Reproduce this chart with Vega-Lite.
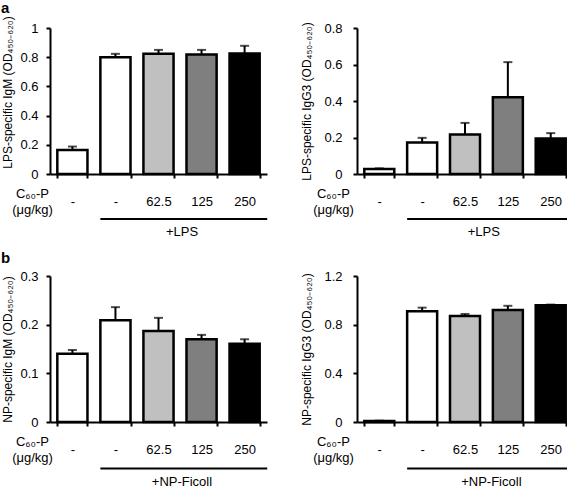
{
  "$schema": "https://vega.github.io/schema/vega-lite/v6.json",
  "padding": {"left": 0, "top": 0, "right": 0, "bottom": 0},
  "spacing": 11,
  "config": {
    "font": "Liberation Sans",
    "view": {"stroke": null},
    "axis": {"domainColor": "black", "tickColor": "black", "labelColor": "black", "titleColor": "black", "labelFontSize": 13, "titleFontSize": 12, "titleFontWeight": "normal", "grid": false, "domainWidth": 2, "tickWidth": 2, "tickSize": 4, "labelFont": "Liberation Sans", "titleFont": "Liberation Sans", "labelOverlap": false, "labelBound": false},
    "title": {"font": "Liberation Sans", "color": "black"}
  },
  "vconcat": [
    {
      "title": {"text": "a", "anchor": "start", "fontSize": 15, "fontWeight": "bold", "offset": 0},
      "spacing": 30,
      "hconcat": [
        {
          "width": 217, "height": 146,
          "data": {"values": [
            {"grp": "ctrl", "mean": 0.164, "hi": 0.188},
            {"grp": "LPS", "mean": 0.800, "hi": 0.823},
            {"grp": "62.5", "mean": 0.824, "hi": 0.850},
            {"grp": "125", "mean": 0.818, "hi": 0.850},
            {"grp": "250", "mean": 0.826, "hi": 0.878}
          ]},
          "layer": [
            {"mark": {"type": "bar", "stroke": "black", "strokeWidth": 2.5},
             "encoding": {
               "x": {"field": "grp", "type": "nominal", "sort": null,
                     "scale": {"domain": ["ctrl", "LPS", "62.5", "125", "250"], "paddingInner": 0.3, "paddingOuter": 0.17},
                     "axis": {"labelExpr": "datum.value == 'ctrl' || datum.value == 'LPS' ? '-' : datum.value", "labelAngle": 0, "tickBand": "extent", "labelPadding": 17, "labelOverlap": false,
                              "title": ["C₆₀-P", "(μg/kg)"], "titleFontSize": 13, "titleX": -18, "titleY": 13, "titleAngle": 0, "titleAlign": "center", "titleBaseline": "top", "titleLineHeight": 16}},
               "y": {"field": "mean", "type": "quantitative", "scale": {"domain": [0, 1]},
                     "axis": {"values": [0, 0.2, 0.4, 0.6, 0.8, 1], "tickCount": 10, "format": "~g", "labelOverlap": false, "labelPadding": 8, "title": "LPS-specific IgM (OD₄₅₀₋₆₂₀)", "titleX": -43, "titleY": 64, "titleBaseline": "middle"}},
               "fill": {"field": "grp", "type": "nominal", "scale": {"domain": ["ctrl", "LPS", "62.5", "125", "250"], "range": ["#ffffff", "#ffffff", "#c0c0c0", "#7f7f7f", "#000000"]}, "legend": null}
             }},
            {"mark": {"type": "rule", "color": "black", "strokeWidth": 2},
             "encoding": {"x": {"field": "grp", "type": "nominal"}, "y": {"field": "mean", "type": "quantitative"}, "y2": {"field": "hi"}}},
            {"mark": {"type": "tick", "color": "black", "thickness": 2, "size": 9},
             "encoding": {"x": {"field": "grp", "type": "nominal"}, "y": {"field": "hi", "type": "quantitative"}}},
            {"data": {"values": [{"start": "LPS", "end": "250", "mid": "125", "label": "+LPS"}]},
             "layer": [
               {"mark": {"type": "rule", "color": "black", "strokeWidth": 2},
                "encoding": {"x": {"field": "start", "type": "nominal", "bandPosition": 0}, "x2": {"field": "end", "bandPosition": 1.25}, "y": {"datum": -0.308}}},
               {"mark": {"type": "text", "fontSize": 13, "baseline": "middle", "align": "center", "color": "black"},
                "encoding": {"x": {"field": "mid", "type": "nominal", "bandPosition": -0.15}, "y": {"datum": -0.397}, "text": {"field": "label"}}}
             ]}
          ]
        },
        {
          "width": 216, "height": 146,
          "data": {"values": [
            {"grp": "ctrl", "mean": 0.027, "hi": 0.031},
            {"grp": "LPS", "mean": 0.173, "hi": 0.198},
            {"grp": "62.5", "mean": 0.216, "hi": 0.280},
            {"grp": "125", "mean": 0.420, "hi": 0.613},
            {"grp": "250", "mean": 0.195, "hi": 0.224}
          ]},
          "layer": [
            {"mark": {"type": "bar", "stroke": "black", "strokeWidth": 2.5},
             "encoding": {
               "x": {"field": "grp", "type": "nominal", "sort": null,
                     "scale": {"domain": ["ctrl", "LPS", "62.5", "125", "250"], "paddingInner": 0.3, "paddingOuter": 0.17},
                     "axis": {"labelExpr": "datum.value == 'ctrl' || datum.value == 'LPS' ? '-' : datum.value", "labelAngle": 0, "tickBand": "extent", "labelPadding": 17, "labelOverlap": false,
                              "title": ["C₆₀-P", "(μg/kg)"], "titleFontSize": 13, "titleX": -24, "titleY": 13, "titleAngle": 0, "titleAlign": "center", "titleBaseline": "top", "titleLineHeight": 16}},
               "y": {"field": "mean", "type": "quantitative", "scale": {"domain": [0, 0.8]},
                     "axis": {"values": [0, 0.2, 0.4, 0.6, 0.8], "tickCount": 10, "format": "~g", "labelOverlap": false, "labelPadding": 11, "title": "LPS-specific IgG3 (OD₄₅₀₋₆₂₀)", "titleX": -51, "titleBaseline": "middle"}},
               "fill": {"field": "grp", "type": "nominal", "scale": {"domain": ["ctrl", "LPS", "62.5", "125", "250"], "range": ["#ffffff", "#ffffff", "#c0c0c0", "#7f7f7f", "#000000"]}, "legend": null}
             }},
            {"mark": {"type": "rule", "color": "black", "strokeWidth": 2},
             "encoding": {"x": {"field": "grp", "type": "nominal"}, "y": {"field": "mean", "type": "quantitative"}, "y2": {"field": "hi"}}},
            {"mark": {"type": "tick", "color": "black", "thickness": 2, "size": 9},
             "encoding": {"x": {"field": "grp", "type": "nominal"}, "y": {"field": "hi", "type": "quantitative"}}},
            {"data": {"values": [{"start": "LPS", "end": "250", "mid": "125", "label": "+LPS"}]},
             "layer": [
               {"mark": {"type": "rule", "color": "black", "strokeWidth": 2},
                "encoding": {"x": {"field": "start", "type": "nominal", "bandPosition": 0}, "x2": {"field": "end", "bandPosition": 1.25}, "y": {"datum": -0.2466}}},
               {"mark": {"type": "text", "fontSize": 13, "baseline": "middle", "align": "center", "color": "black"},
                "encoding": {"x": {"field": "mid", "type": "nominal", "bandPosition": -0.3}, "y": {"datum": -0.318}, "text": {"field": "label"}}}
             ]}
          ]
        }
      ]
    },
    {
      "title": {"text": "b", "anchor": "start", "fontSize": 15, "fontWeight": "bold", "offset": 4},
      "spacing": 30,
      "hconcat": [
        {
          "width": 217, "height": 146,
          "data": {"values": [
            {"grp": "ctrl", "mean": 0.140, "hi": 0.148},
            {"grp": "NP", "mean": 0.209, "hi": 0.236},
            {"grp": "62.5", "mean": 0.187, "hi": 0.214},
            {"grp": "125", "mean": 0.170, "hi": 0.179},
            {"grp": "250", "mean": 0.161, "hi": 0.170}
          ]},
          "layer": [
            {"mark": {"type": "bar", "stroke": "black", "strokeWidth": 2.5},
             "encoding": {
               "x": {"field": "grp", "type": "nominal", "sort": null,
                     "scale": {"domain": ["ctrl", "NP", "62.5", "125", "250"], "paddingInner": 0.3, "paddingOuter": 0.17},
                     "axis": {"labelExpr": "datum.value == 'ctrl' || datum.value == 'NP' ? '-' : datum.value", "labelAngle": 0, "tickBand": "extent", "labelPadding": 17, "labelOverlap": false,
                              "title": ["C₆₀-P", "(μg/kg)"], "titleFontSize": 13, "titleX": -18, "titleY": 13, "titleAngle": 0, "titleAlign": "center", "titleBaseline": "top", "titleLineHeight": 16}},
               "y": {"field": "mean", "type": "quantitative", "scale": {"domain": [0, 0.3]},
                     "axis": {"values": [0, 0.1, 0.2, 0.3], "tickCount": 10, "format": "~g", "labelOverlap": false, "labelPadding": 8, "title": "NP-specific IgM (OD₄₅₀₋₆₂₀)", "titleX": -43, "titleBaseline": "middle"}},
               "fill": {"field": "grp", "type": "nominal", "scale": {"domain": ["ctrl", "NP", "62.5", "125", "250"], "range": ["#ffffff", "#ffffff", "#c0c0c0", "#7f7f7f", "#000000"]}, "legend": null}
             }},
            {"mark": {"type": "rule", "color": "black", "strokeWidth": 2},
             "encoding": {"x": {"field": "grp", "type": "nominal"}, "y": {"field": "mean", "type": "quantitative"}, "y2": {"field": "hi"}}},
            {"mark": {"type": "tick", "color": "black", "thickness": 2, "size": 9},
             "encoding": {"x": {"field": "grp", "type": "nominal"}, "y": {"field": "hi", "type": "quantitative"}}},
            {"data": {"values": [{"start": "NP", "end": "250", "mid": "125", "label": "+NP-Ficoll"}]},
             "layer": [
               {"mark": {"type": "rule", "color": "black", "strokeWidth": 2},
                "encoding": {"x": {"field": "start", "type": "nominal", "bandPosition": 0}, "x2": {"field": "end", "bandPosition": 1.25}, "y": {"datum": -0.0955}}},
               {"mark": {"type": "text", "fontSize": 13, "baseline": "middle", "align": "center", "color": "black"},
                "encoding": {"x": {"field": "mid", "type": "nominal", "bandPosition": -0.15}, "y": {"datum": -0.123}, "text": {"field": "label"}}}
             ]}
          ]
        },
        {
          "width": 216, "height": 146,
          "data": {"values": [
            {"grp": "ctrl", "mean": 0.008, "hi": 0.011},
            {"grp": "NP", "mean": 0.910, "hi": 0.940},
            {"grp": "62.5", "mean": 0.871, "hi": 0.888},
            {"grp": "125", "mean": 0.920, "hi": 0.955},
            {"grp": "250", "mean": 0.960, "hi": 0.965}
          ]},
          "layer": [
            {"mark": {"type": "bar", "stroke": "black", "strokeWidth": 2.5},
             "encoding": {
               "x": {"field": "grp", "type": "nominal", "sort": null,
                     "scale": {"domain": ["ctrl", "NP", "62.5", "125", "250"], "paddingInner": 0.3, "paddingOuter": 0.17},
                     "axis": {"labelExpr": "datum.value == 'ctrl' || datum.value == 'NP' ? '-' : datum.value", "labelAngle": 0, "tickBand": "extent", "labelPadding": 17, "labelOverlap": false,
                              "title": ["C₆₀-P", "(μg/kg)"], "titleFontSize": 13, "titleX": -24, "titleY": 13, "titleAngle": 0, "titleAlign": "center", "titleBaseline": "top", "titleLineHeight": 16}},
               "y": {"field": "mean", "type": "quantitative", "scale": {"domain": [0, 1.2]},
                     "axis": {"values": [0, 0.4, 0.8, 1.2], "tickCount": 10, "format": "~g", "labelOverlap": false, "labelPadding": 11, "title": "NP-specific IgG3 (OD₄₅₀₋₆₂₀)", "titleX": -51, "titleBaseline": "middle"}},
               "fill": {"field": "grp", "type": "nominal", "scale": {"domain": ["ctrl", "NP", "62.5", "125", "250"], "range": ["#ffffff", "#ffffff", "#c0c0c0", "#7f7f7f", "#000000"]}, "legend": null}
             }},
            {"mark": {"type": "rule", "color": "black", "strokeWidth": 2},
             "encoding": {"x": {"field": "grp", "type": "nominal"}, "y": {"field": "mean", "type": "quantitative"}, "y2": {"field": "hi"}}},
            {"mark": {"type": "tick", "color": "black", "thickness": 2, "size": 9},
             "encoding": {"x": {"field": "grp", "type": "nominal"}, "y": {"field": "hi", "type": "quantitative"}}},
            {"data": {"values": [{"start": "NP", "end": "250", "mid": "125", "label": "+NP-Ficoll"}]},
             "layer": [
               {"mark": {"type": "rule", "color": "black", "strokeWidth": 2},
                "encoding": {"x": {"field": "start", "type": "nominal", "bandPosition": 0}, "x2": {"field": "end", "bandPosition": 1.25}, "y": {"datum": -0.382}}},
               {"mark": {"type": "text", "fontSize": 13, "baseline": "middle", "align": "center", "color": "black"},
                "encoding": {"x": {"field": "mid", "type": "nominal", "bandPosition": -0.05}, "y": {"datum": -0.49}, "text": {"field": "label"}}}
             ]}
          ]
        }
      ]
    }
  ]
}
